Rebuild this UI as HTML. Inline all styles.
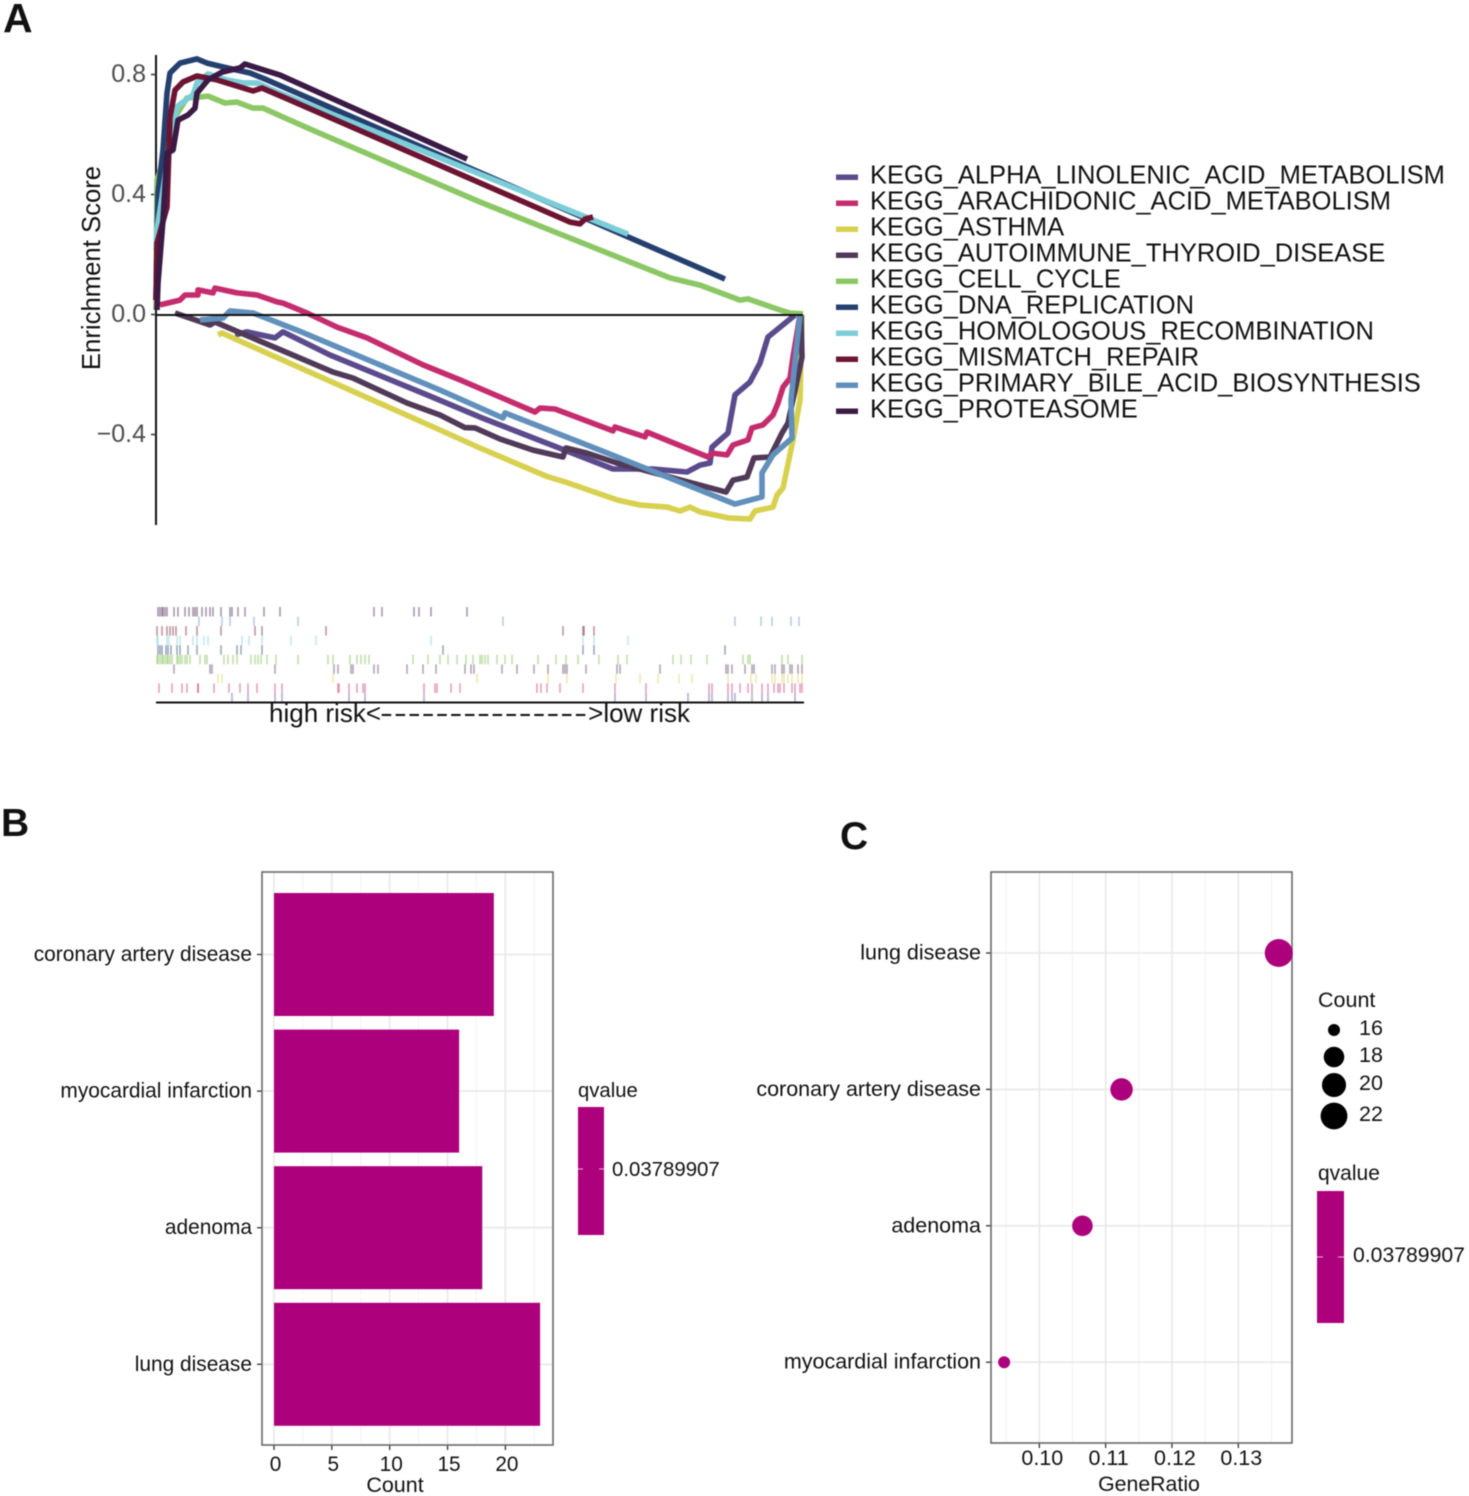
<!DOCTYPE html>
<html lang="en">
<head>
<meta charset="utf-8">
<title>GSEA and disease enrichment figure</title>
<style>
html,body{margin:0;padding:0;background:#fff;width:1469px;height:1496px;overflow:hidden}
svg{display:block;filter:blur(0.4px)}
text{font-family:"Liberation Sans",Arial,sans-serif;fill:#111}
</style>
</head>
<body>
<svg id="fig" xmlns="http://www.w3.org/2000/svg" width="1469" height="1496" viewBox="0 0 1469 1496">
  <rect width="1469" height="1496" fill="#fff"/>
  <text x="3" y="32" font-size="41" font-weight="bold">A</text>
  <text x="1" y="836" font-size="39" font-weight="bold">B</text>
  <text x="840" y="849" font-size="39" font-weight="bold">C</text>
  <g id="gsea"></g>
  <g id="bar"></g>
  <g id="dot"></g>
</svg>
<script>
// ---------- Panel A: running enrichment scores (rank, ES) ----------
const seriesNames = ["KEGG_ALPHA_LINOLENIC_ACID_METABOLISM","KEGG_ARACHIDONIC_ACID_METABOLISM","KEGG_ASTHMA","KEGG_AUTOIMMUNE_THYROID_DISEASE","KEGG_CELL_CYCLE","KEGG_DNA_REPLICATION","KEGG_HOMOLOGOUS_RECOMBINATION","KEGG_MISMATCH_REPAIR","KEGG_PRIMARY_BILE_ACID_BIOSYNTHESIS","KEGG_PROTEASOME"];
const esTicks = [0.8,0.4,0,-0.4];
const rankMax = 647;

const rankAlpha = [79,91,119,127,174,271,324,407,457,497,531,544,554,556,572,579,594,604,612,639];
const esAlpha = [-.068,-.058,-.078,-.058,-.135,-.268,-.342,-.45,-.515,-.515,-.525,-.502,-.495,-.442,-.395,-.268,-.225,-.162,-.075,-.002];
const rankArachidonic = [4,24,29,42,42,57,59,81,101,121,127,151,181,211,267,304,379,384,399,457,459,489,491,552,556,571,577,592,596,607,617,622,627,634,637,641,644];
const esArachidonic = [.032,.048,.065,.065,.082,.072,.088,.072,.065,.042,.038,.005,-.042,-.078,-.168,-.218,-.325,-.312,-.315,-.388,-.375,-.408,-.392,-.475,-.462,-.468,-.435,-.418,-.378,-.368,-.335,-.295,-.242,-.212,-.142,-.062,-.002];
const rankAsthma = [62,66,284,324,391,409,461,484,511,524,534,544,572,594,599,617,621,627,637,644,646];
const esAsthma = [-.068,-.062,-.385,-.445,-.54,-.558,-.618,-.635,-.642,-.655,-.642,-.658,-.678,-.682,-.655,-.642,-.602,-.578,-.418,-.285,-.002];
const rankAutoimmune = [19,54,59,177,197,251,284,309,319,344,377,407,410,431,461,570,577,591,598,614,626,632,646,645];
const esAutoimmune = [.005,-.035,-.025,-.192,-.212,-.295,-.335,-.377,-.378,-.415,-.452,-.475,-.445,-.462,-.495,-.592,-.552,-.542,-.478,-.475,-.395,-.362,-.142,-.002];
const rankCell = [0,1,14,19,31,44,52,69,81,97,107,127,161,324,474,514,544,584,592,624,634,647];
const esCell = [.015,.448,.582,.658,.722,.725,.728,.705,.708,.688,.688,.658,.608,.375,.175,.122,.098,.048,.052,.015,.005,.002];
const rankDna = [0,2,7,11,14,24,41,51,71,94,111,569];
const esDna = [.048,.405,.548,.738,.805,.838,.852,.838,.822,.805,.782,.118];
const rankHomologous = [0,1,6,14,21,27,37,41,52,71,87,101,121,472];
const esHomologous = [.215,.282,.392,.572,.692,.708,.732,.772,.802,.782,.772,.772,.742,.268];
const rankMismatch = [0,1,11,14,19,27,41,61,97,106,127,414,424,429,437];
const esMismatch = [.048,.238,.358,.658,.748,.775,.795,.782,.745,.755,.725,.308,.302,.318,.325];
const rankBile = [44,67,74,97,141,284,347,349,444,579,606,606,617,636,635,644];
const esBile = [-.018,-.012,.012,.005,-.052,-.252,-.345,-.328,-.452,-.632,-.608,-.528,-.468,-.412,-.285,-.002];
const rankProteasome = [1,2,7,11,17,22,32,39,41,52,66,84,89,124,311];
const esProteasome = [.015,.105,.315,.538,.548,.648,.665,.688,.738,.782,.808,.822,.835,.798,.518];

// gene hit positions per rug row
const hitsProteasome = [2,4,6,7,9,11,18,22,29,33,37,39,41,46,50,54,57,65,74,76,82,89,108,124,218,226,258,263,275,311];
const hitsBile = [43,66,74,98,142,347,579,605,616,635,643];
const hitsMismatch = [1,6,11,14,17,20,30,41,65,99,106,170,407,427,428,438];
const hitsHomologous = [1,2,11,13,21,24,37,41,48,52,86,93,106,135,160,275,427,438,472];
const hitsDna = [2,4,6,10,12,15,21,24,32,41,65,81,85,106,287,427,438,569];
const hitsCell = [1,2,4,6,7,9,11,12,14,16,21,22,24,26,29,31,34,44,49,51,68,72,77,81,95,99,102,105,111,120,142,172,177,194,201,205,209,213,257,272,284,292,301,310,317,324,329,332,326,341,349,356,382,400,410,422,443,462,471,517,525,535,551,587,592,594,626,632,646];
const hitsAutoimmune = [18,54,56,119,178,182,195,197,218,222,251,267,280,309,315,318,346,361,378,392,407,409,411,430,461,464,504,570,572,576,589,596,598,616,619,626,628,634,636,642,646];
const hitsAsthma = [62,66,177,321,392,411,460,484,502,523,536,572,595,600,616,619,626,628,632,636,642,646];
const hitsArachidonic = [3,16,26,31,42,42,58,73,84,92,101,119,126,182,183,193,201,207,209,268,279,281,295,304,381,385,391,404,427,459,490,553,556,572,576,584,592,596,606,612,618,622,624,628,636,639,644,646];
const hitsAlpha = [76,92,119,126,193,209,268,459,490,532,553,556,572,576,579,596,606,612,639];

// ---------- Panel B ----------
const barCategories = ["coronary artery disease","myocardial infarction","adenoma","lung disease"];
const barCounts = [19,16,18,23];
const barTicks = [0,5,10,15,20];

// ---------- Panel C ----------
const dotCategories = ["lung disease","coronary artery disease","adenoma","myocardial infarction"];
const dotRatios = [0.1361,0.1124,0.1065,0.0947];
const dotCounts = [23,19,18,16];
const dotTicks = [0.10,0.11,0.12,0.13];
const sizeLegend = [16,18,20,22];
const qvalueLabel = ["0.03789907"];

// ---------- styling ----------
const palette = ["#5b4a8c","#c52c6e","#d8d04f","#503a58","#8cc765","#25406f","#7ccdd8","#6c1432","#6090bb","#3b1a45"];
const MAG = "#ad007c", NS = "http://www.w3.org/2000/svg";

function el(tag, attrs, parent, txt){
  const n = document.createElementNS(NS, tag);
  for (const k in attrs) n.setAttribute(k, attrs[k]);
  if (txt !== undefined) n.textContent = txt;
  parent.appendChild(n);
  return n;
}

// ---------- A: scales ----------
const gsea = document.getElementById('gsea');
const xRank = r => 156 + r * (803 - 156) / rankMax;
const yEs = v => 314.5 - v * 300;

const ranks = [rankAlpha,rankArachidonic,rankAsthma,rankAutoimmune,rankCell,rankDna,rankHomologous,rankMismatch,rankBile,rankProteasome];
const scores = [esAlpha,esArachidonic,esAsthma,esAutoimmune,esCell,esDna,esHomologous,esMismatch,esBile,esProteasome];

// y axis
const yAxisLine = el('line',{x1:156,x2:156,y1:55,y2:525,stroke:'#111','stroke-width':2},gsea);


esTicks.forEach(t=>{
  const tick = el('line',{x1:151,x2:156,y1:yEs(t),y2:yEs(t),stroke:'#333','stroke-width':1.5},gsea);
  
  
  const lab = el('text',{x:146,y:yEs(t)+7.5,'text-anchor':'end','font-size':25,style:'fill:#4d4d4d'},gsea,(t<0?'\u2212':'')+Math.abs(t).toFixed(1));
  
  
});
const yTitle = el('text',{transform:'translate(100,268) rotate(-90)','text-anchor':'middle','font-size':25.7},gsea,'Enrichment Score');



// series lines
seriesNames.forEach((nm,i)=>{
  const pts = ranks[i].map((r,j)=>xRank(r).toFixed(1)+','+yEs(scores[i][j]).toFixed(1)).join(' ');
  const line = el('polyline',{points:pts,fill:'none',stroke:palette[i],'stroke-width':5.6,'stroke-linejoin':'round','stroke-linecap':'butt'},gsea);
  
  
});

// zero line above the series start
const zeroLine = el('line',{x1:156,x2:803,y1:315,y2:315,stroke:'#111','stroke-width':2},gsea);



// rug rows, top to bottom
const rugHits = [hitsProteasome,hitsBile,hitsMismatch,hitsHomologous,hitsDna,hitsCell,hitsAutoimmune,hitsAsthma,hitsArachidonic,hitsAlpha];
const rugColorIndex = [9,8,7,6,5,4,3,2,1,0];
rugHits.forEach((hits,row)=>{
  const top = 607 + row * 9.55;
  hits.forEach(h=>{
    const tick = el('rect',{x:xRank(h)-0.8,y:top,width:1.6,height:9.5,fill:palette[rugColorIndex[row]],opacity:row===5?0.55:0.45},gsea);
    
    
  });
});
const rugBase = el('line',{x1:156,x2:804,y1:702.5,y2:702.5,stroke:'#111','stroke-width':2},gsea);


const riskA = el('text',{x:269,y:722,'font-size':26},gsea,'high risk<');


const riskB = el('text',{transform:'translate(380,722) scale(1.5,1)','font-size':26,style:'letter-spacing:0.59px'},gsea,'---------------');


const riskC = el('text',{x:690,y:722,'font-size':26,'text-anchor':'end'},gsea,'>low risk');



// legend A
seriesNames.forEach((nm,i)=>{
  const cy = 177 + i * 26;
  const key = el('rect',{x:836,y:cy-2.5,width:22,height:5.5,fill:palette[i]},gsea);
  
  
  const lab = el('text',{x:870,y:cy+6.5,'font-size':25.5},gsea,nm);
  
  
});

// ---------- shared grid helper pieces ----------
function panelFrame(g,x,y,w,h,name){
  const f = el('rect',{x:x,y:y,width:w,height:h,fill:'none',stroke:'#6a6a6a','stroke-width':1.6},g);
  
  
}

// ---------- B ----------
const bar = document.getElementById('bar');
const bx = {l:262,r:553,t:872,b:1445};
const xCount = c => 274 + c * 11.57;
const yBand = i => 954.5 + i * 136.6;
for (let m=2.5;m<=22.5;m+=5){
  const minor = el('line',{x1:xCount(m),x2:xCount(m),y1:bx.t,y2:bx.b,stroke:'#f0f0f0','stroke-width':.9},bar);
  
  
}
barTicks.forEach(t=>{
  const grid = el('line',{x1:xCount(t),x2:xCount(t),y1:bx.t,y2:bx.b,stroke:'#e8e8e8','stroke-width':1.6},bar);
  
  
  const tick = el('line',{x1:xCount(t),x2:xCount(t),y1:bx.b,y2:bx.b+5,stroke:'#333','stroke-width':1.3},bar);
  
  
  const lab = el('text',{x:xCount(t)+1.5,y:1471,'text-anchor':'middle','font-size':20.8},bar,String(t));
  
  
});
barCategories.forEach((c,i)=>{
  const y = yBand(i);
  const grid = el('line',{x1:bx.l,x2:bx.r,y1:y,y2:y,stroke:'#e8e8e8','stroke-width':1.6},bar);
  
  
  const rect = el('rect',{x:xCount(0),y:y-61.5,width:xCount(barCounts[i])-xCount(0),height:123,fill:MAG},bar);
  
  
  const tick = el('line',{x1:bx.l-5,x2:bx.l,y1:y,y2:y,stroke:'#333','stroke-width':1.3},bar);
  
  
  const lab = el('text',{x:252,y:y+6.5,'text-anchor':'end','font-size':20.9},bar,c);
  
  
});
panelFrame(bar,bx.l,bx.t,bx.r-bx.l,bx.b-bx.t,'bar-panel-border');
const barXTitle = el('text',{x:395,y:1492,'text-anchor':'middle','font-size':21.5},bar,'Count');


const barLegTitle = el('text',{x:578,y:1097,'font-size':20.3},bar,'qvalue');


const barCb = el('rect',{x:578,y:1107,width:26,height:128,fill:MAG},bar);


const barCbT1 = el('line',{x1:578,x2:583,y1:1169,y2:1169,stroke:'#e9b4d8','stroke-width':1},bar);


const barCbT2 = el('line',{x1:599,x2:604,y1:1169,y2:1169,stroke:'#e9b4d8','stroke-width':1},bar);


const barCbLab = el('text',{x:612,y:1176,'font-size':20.4},bar,qvalueLabel[0]);



// ---------- C ----------
const dot = document.getElementById('dot');
const dx = {l:991,r:1292,t:872,b:1443};
const xRatio = v => 1039.3 + (v - 0.10) * 6633;
const yDot = i => 953 + i * 136.4;
const rSize = c => 6 + 8 * Math.sqrt((c - 16) / 7);
for (let m=0.095;m<=0.1355;m+=0.01){
  const minor = el('line',{x1:xRatio(m),x2:xRatio(m),y1:dx.t,y2:dx.b,stroke:'#f0f0f0','stroke-width':.9},dot);
  
  
}
dotTicks.forEach(t=>{
  const grid = el('line',{x1:xRatio(t),x2:xRatio(t),y1:dx.t,y2:dx.b,stroke:'#e8e8e8','stroke-width':1.6},dot);
  
  
  const tick = el('line',{x1:xRatio(t),x2:xRatio(t),y1:dx.b,y2:dx.b+5,stroke:'#333','stroke-width':1.3},dot);
  
  
  const lab = el('text',{x:xRatio(t)+3,y:1465,'text-anchor':'middle','font-size':21.5},dot,t.toFixed(2));
  
  
});
dotCategories.forEach((c,i)=>{
  const y = yDot(i);
  const grid = el('line',{x1:dx.l,x2:dx.r,y1:y,y2:y,stroke:'#e8e8e8','stroke-width':1.6},dot);
  
  
  const tick = el('line',{x1:dx.l-5,x2:dx.l,y1:y,y2:y,stroke:'#333','stroke-width':1.3},dot);
  
  
  const lab = el('text',{x:981,y:y+6.5,'text-anchor':'end','font-size':21.5},dot,c);
  
  
});
panelFrame(dot,dx.l,dx.t,dx.r-dx.l,dx.b-dx.t,'dot-panel-border');
dotCategories.forEach((c,i)=>{
  const pt = el('circle',{cx:xRatio(dotRatios[i]),cy:yDot(i),r:rSize(dotCounts[i]),fill:MAG},dot);
  
  
});
const dotXTitle = el('text',{x:1149,y:1491,'text-anchor':'middle','font-size':21.3},dot,'GeneRatio');


const sizeTitle = el('text',{x:1318,y:1007,'font-size':21.5},dot,'Count');


const sizeYs = [1030,1057,1085,1116];
sizeLegend.forEach((s,i)=>{
  const key = el('circle',{cx:1334,cy:sizeYs[i],r:rSize(s),fill:'#000'},dot);
  
  
  const lab = el('text',{x:1359,y:sizeYs[i]+5,'font-size':21.5},dot,String(s));
  
  
});
const dotLegTitle = el('text',{x:1318,y:1180,'font-size':21},dot,'qvalue');


const dotCb = el('rect',{x:1317,y:1191,width:27,height:132,fill:MAG},dot);


const dotCbT1 = el('line',{x1:1317,x2:1323,y1:1257,y2:1257,stroke:'#e9b4d8','stroke-width':1},dot);


const dotCbT2 = el('line',{x1:1338,x2:1344,y1:1257,y2:1257,stroke:'#e9b4d8','stroke-width':1},dot);


const dotCbLab = el('text',{x:1353,y:1262,'font-size':21.2},dot,qvalueLabel[0]);


</script>
</body>
</html>
